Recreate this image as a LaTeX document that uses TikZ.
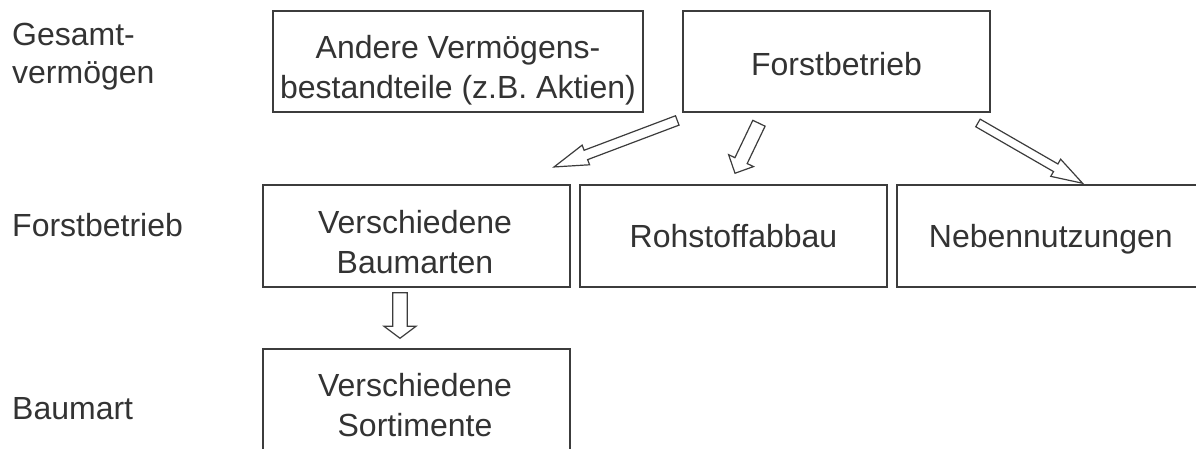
\documentclass[tikz,border=0pt]{standalone}
\usepackage{fontspec}
\setmainfont{Liberation Sans}
\usetikzlibrary{calc}
\definecolor{linegray}{HTML}{3C3C3C}
\definecolor{textgray}{HTML}{333333}
\tikzset{
  box/.style={draw=linegray, line width=1.5pt, fill=white, inner sep=0pt},
  txt/.style={text=textgray, font=\fontsize{32}{39.5}\selectfont, align=center,
    inner sep=0pt, text depth=0pt},
  rowlabel/.style={txt, align=left, anchor=north west},
  blockarr/.style={draw=linegray, line width=1.2pt, fill=white, line join=miter},
}
% hollow block arrow: tail, tip, shaft half-width, head half-width, head length
\newcommand\blockarrow[5]{%
  \coordinate (hb) at ($(#2)!#5!(#1)$);
  \draw[blockarr] ($(#1)!#3!90:(#2)$) -- ($(hb)!#3!90:(#2)$) -- ($(hb)!#4!90:(#2)$)
    -- (#2) -- ($(hb)!#4!-90:(#2)$) -- ($(hb)!#3!-90:(#2)$) -- ($(#1)!#3!-90:(#2)$) -- cycle;
}
\begin{document}
\begin{tikzpicture}[x=1pt, y=-1pt]
  \useasboundingbox (0,0) rectangle (1196,448);
  \clip (0,0) rectangle (1196,448);

  % level labels
  \node[rowlabel, font=\fontsize{32}{38}\selectfont] (lvl1) at (12,23) {Gesamt-\\vermögen};
  \node[rowlabel] (lvl2) at (12,213) {Forstbetrieb};
  \node[rowlabel] (lvl3) at (12,397) {Baumart};

  % top level
  \node[box, minimum width=370pt, minimum height=101pt] (andere) at (458,61.5) {};
  \node[txt] (andereT) at (458,67) {Andere Vermögens-\\bestandteile (z.B. Aktien)};
  \node[box, minimum width=307pt, minimum height=101pt] (fb) at (836.5,61.5) {};
  \node[txt] (fbT) at (836.5,63.5) {Forstbetrieb};

  % second level
  \node[box, minimum width=307pt, minimum height=102pt] (vb) at (416.5,236) {};
  \node[txt] (vbT) at (415,242) {Verschiedene\\Baumarten};
  \node[box, minimum width=307pt, minimum height=102pt] (roh) at (733.5,236) {};
  \node[txt] (rohT) at (733.5,236) {Rohstoffabbau};
  \node[box, minimum width=320pt, minimum height=102pt] (neb) at (1057,236) {};
  \node[txt] (nebT) at (1050.8,236) {Nebennutzungen};

  % third level
  \node[box, minimum width=307pt, minimum height=121pt] (vs) at (416.5,409.5) {};
  \node[txt] (vsT) at (415,405) {Verschiedene\\Sortimente};

  % arrow end points
  \coordinate (a1s) at ([shift={(-5,7.7)}]fb.south west);
  \coordinate (a1e) at ([shift={(-16.7,-17.3)}]vb.north east);
  \coordinate (a2s) at ([shift={(76.7,10.5)}]fb.south west);
  \coordinate (a2e) at ([shift={(1.5,-11)}]roh.north);
  \coordinate (a3s) at ([shift={(-12.8,10.2)}]fb.south east);
  \coordinate (a3e) at ([shift={(186.3,-1)}]neb.north west);
  \coordinate (a4s) at ([shift={(-16.5,5)}]vb.south);
  \coordinate (a4e) at ([shift={(-16.5,-10)}]vs.north);

  \blockarrow{a1s}{a1e}{5pt}{10.5pt}{34pt}
  \blockarrow{a2s}{a2e}{6.8pt}{13.8pt}{14pt}
  \blockarrow{a3s}{a3e}{4.4pt}{9.9pt}{31pt}
  \blockarrow{a4s}{a4e}{7.3pt}{16pt}{12pt}
\end{tikzpicture}
\end{document}
